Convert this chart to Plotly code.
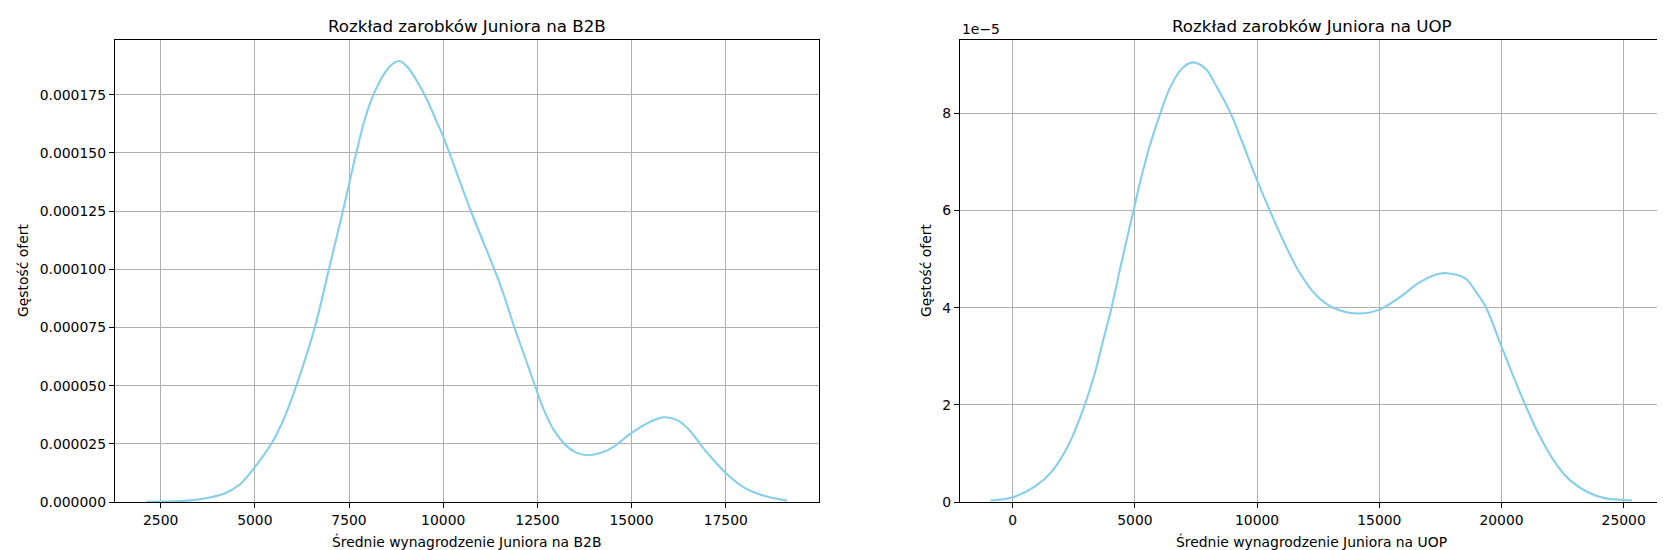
import plotly.graph_objects as go

b2b_salary = [2129, 2500, 3000, 3360, 3798, 4237, 4600, 5000, 5434, 5745, 6100,
              6600, 6959, 7332, 7500, 7686, 7908, 8174, 8573, 8830, 9016, 9504, 9823,
              10000, 10745, 11366, 11596, 11879, 12172, 12438, 12660, 12926, 13280,
              13546, 13883, 14167, 14500, 15000, 15500, 15860, 16200, 16500, 17000,
              17500, 18000, 18500, 19125]
b2b_density = [0.1e-6, 0.2e-6, 0.4e-6, 0.8e-6, 1.9e-6, 4.0e-6, 7.5e-6, 15.0e-6, 24.9e-6,
               34.8e-6, 49.9e-6, 75.5e-6, 99.6e-6, 124.6e-6, 136.5e-6, 149.6e-6,
               163.8e-6, 176.0e-6, 187.0e-6, 189.5e-6, 187.5e-6, 175.0e-6, 163.5e-6,
               157.0e-6, 124.6e-6, 99.6e-6, 89.5e-6, 75.5e-6, 62.1e-6, 49.9e-6, 40.0e-6,
               31.2e-6, 24.0e-6, 21.1e-6, 20.1e-6, 21.0e-6, 23.5e-6, 29.7e-6, 34.5e-6,
               36.4e-6, 35.3e-6, 31.5e-6, 21.3e-6, 12.5e-6, 6.1e-6, 2.8e-6, 0.6e-6]

uop_salary = [-917, 0, 917, 1601, 2285, 2941, 3379, 3721, 4036, 4473, 4966, 5294, 5677,
              6005, 6457, 6935, 7373, 7893, 8372, 8919, 9398, 10000, 10477, 11023, 11705,
              12388, 13070, 14093, 15000, 15798, 16617, 17299, 17777, 18527, 18950, 19372,
              20000, 20573, 20982, 21528, 22210, 22800, 23537, 24218, 25000, 25340]
# w jednostkach 1e-5 (jak na osi)
uop_density = [0.03, 0.10, 0.32, 0.63, 1.18, 1.99, 2.69, 3.37, 3.99, 4.98, 6.05, 6.75, 7.45,
               7.95, 8.55, 8.93, 9.05, 8.92, 8.52, 8.00, 7.40, 6.62, 6.05, 5.43, 4.75,
               4.27, 4.01, 3.88, 3.96, 4.20, 4.51, 4.68, 4.71, 4.60, 4.33, 4.00,
               3.20, 2.48, 1.99, 1.39, 0.80, 0.45, 0.20, 0.08, 0.04, 0.03]

b2b_ticks = [2500, 5000, 7500, 10000, 12500, 15000, 17500]
uop_ticks = [0, 5000, 10000, 15000, 20000, 25000]
b2b_yticks = [0, 0.000025, 0.00005, 0.000075, 0.0001, 0.000125, 0.00015, 0.000175]
uop_yticks = [0, 2, 4, 6, 8]

W, H = 1665, 550
font = dict(family="DejaVu Sans", size=13.9, color="black")
line_color = "#87CEEB"

fig = go.Figure()
fig.add_trace(go.Scatter(x=b2b_salary, y=b2b_density, mode="lines",
                         line=dict(color=line_color, width=2.1, shape="spline", smoothing=1.0),
                         xaxis="x", yaxis="y", showlegend=False))
fig.add_trace(go.Scatter(x=uop_salary, y=uop_density, mode="lines",
                         line=dict(color=line_color, width=2.1, shape="spline", smoothing=1.0),
                         xaxis="x2", yaxis="y2", showlegend=False))

axis_style = dict(showline=True, linecolor="black", linewidth=1.1, mirror=True,
                  ticks="outside", ticklen=4.9, tickwidth=1.1, tickcolor="black",
                  showgrid=True, gridcolor="#b0b0b0", gridwidth=1.1, zeroline=False,
                  tickfont=font)

ax1 = (106.7 / W, 811 / W)
ax2 = (951.7 / W, 1656 / W)

fig.update_layout(
    width=W, height=H,
    margin=dict(l=0, r=0, t=32, b=56),
    paper_bgcolor="white", plot_bgcolor="white",
    font=font,
    xaxis=dict(axis_style, domain=list(ax1), range=[1280, 19975], tickvals=b2b_ticks,
               tickformat="d", anchor="y"),
    yaxis=dict(axis_style, domain=[0, 1], range=[0, 0.0001985], tickvals=b2b_yticks,
               tickformat=".6f", anchor="x"),
    xaxis2=dict(axis_style, domain=list(ax2), range=[-2170, 26650], tickvals=uop_ticks,
                tickformat="d", anchor="y2"),
    yaxis2=dict(axis_style, domain=[0, 1], range=[0, 9.51], tickvals=uop_yticks,
                anchor="x2"),
)

annotations = [
    dict(text="Rozkład zarobków Juniora na B2B", x=(ax1[0] + ax1[1]) / 2, y=18,
         font=dict(size=16.7)),
    dict(text="Rozkład zarobków Juniora na UOP", x=(ax2[0] + ax2[1]) / 2, y=18,
         font=dict(size=16.7)),
    dict(text="Średnie wynagrodzenie Juniora na B2B", x=(ax1[0] + ax1[1]) / 2, y=533),
    dict(text="Średnie wynagrodzenie Juniora na UOP", x=(ax2[0] + ax2[1]) / 2, y=533),
    dict(text="Gęstość ofert", x=15 / W, y=263, textangle=-90),
    dict(text="Gęstość ofert", x=918 / W, y=263, textangle=-90),
]
for a in annotations:
    fig.add_annotation(xref="paper", yref="paper", x=a["x"], y=1 - (a["y"] - 32) / (H - 88),
                       text=a["text"], showarrow=False, xanchor="center", yanchor="middle",
                       textangle=a.get("textangle", 0), font=a.get("font", {}))

fig.add_annotation(xref="paper", yref="paper", x=ax2[0], y=1, text="1e−5", showarrow=False,
                   xanchor="left", yanchor="bottom", yshift=1)

fig.write_html("out.html")
